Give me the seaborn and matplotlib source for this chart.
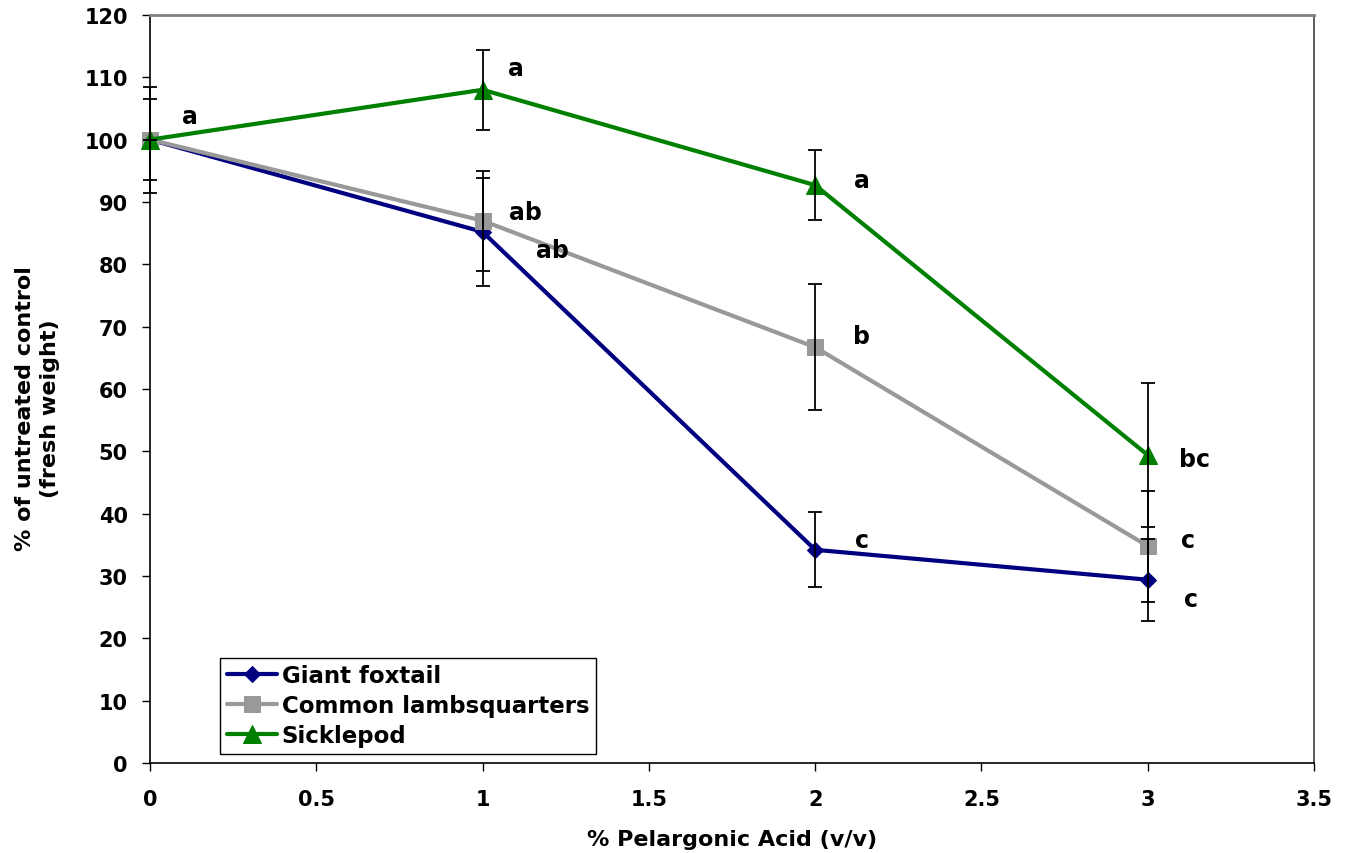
import matplotlib
matplotlib.use('Agg')
import matplotlib.pyplot as plt
import seaborn as sns
import pandas as pd

sns.set_style('white')
plt.rcParams['font.family'] = ['DejaVu Sans']
plt.rcParams['font.weight'] = 'bold'
plt.rcParams['text.color'] = 'black'
plt.rcParams['axes.labelcolor'] = 'black'
plt.rcParams['xtick.color'] = 'black'
plt.rcParams['ytick.color'] = 'black'

# 데이터
acid = [0, 1, 2, 3]
species = ['Giant foxtail', 'Common lambsquarters', 'Sicklepod']
giant = [100, 85.2, 34.2, 29.4]
giant_err = [8.5, 8.6, 6.0, 6.6]
lambs = [100, 87.0, 66.7, 34.8]
lambs_err = [6.5, 8.0, 10.1, 8.9]
sickle = [100, 108.0, 92.7, 49.4]
sickle_err = [0, 6.4, 5.6, 11.6]

colors = ['#000080', '#999999', '#008000']
markers = ['D', 's', '^']
msizes = [8.5, 11.5, 12.5]

# 유의성 문자
letter_x = [0.12, 1.10, 1.13, 1.21, 2.14, 2.14, 2.14, 3.14, 3.12, 3.13]
letter_y = [103.8, 111.5, 88.4, 82.3, 93.5, 68.5, 35.8, 48.8, 35.8, 26.3]
letter_txt = ['a', 'a', 'ab', 'ab', 'a', 'b', 'c', 'bc', 'c', 'c']

fig = plt.figure(figsize=(13.47, 8.54), dpi=100)
ax = fig.add_axes([0.1114, 0.1054, 0.8641, 0.8759])

values = [giant, lambs, sickle]
errors = [giant_err, lambs_err, sickle_err]
for name, vals, col, mk, ms in zip(species, values, colors, markers, msizes):
    df = pd.DataFrame({'x': acid, 'y': vals})
    sns.lineplot(data=df, x='x', y='y', ax=ax, color=col, marker=mk,
                 markersize=ms, markeredgecolor=col, linewidth=3,
                 label=name, zorder=2, clip_on=False)

for vals, err in zip(values, errors):
    eb = ax.errorbar(acid, vals, yerr=err, fmt='none', ecolor='black',
                     elinewidth=1.3, capsize=5, capthick=1.3, zorder=3)
    for art in eb.lines[1] + eb.lines[2]:
        art.set_clip_on(False)

for x, y, t in zip(letter_x, letter_y, letter_txt):
    ax.text(x, y, t, fontsize=17, fontweight='bold', ha='center', va='center')

ax.set_xlim(0, 3.5)
ax.set_ylim(0, 120)
ax.set_xticks([0, 0.5, 1, 1.5, 2, 2.5, 3, 3.5])
ax.set_xticklabels(['0', '0.5', '1', '1.5', '2', '2.5', '3', '3.5'])
ax.set_yticks(range(0, 121, 10))
ax.tick_params(axis='both', direction='out', length=6, width=1,
               labelsize=15, color='black')
ax.tick_params(axis='x', pad=13)
ax.tick_params(axis='y', pad=10)
ax.xaxis.set_ticks_position('bottom')
ax.yaxis.set_ticks_position('left')

for s in ['left', 'bottom']:
    ax.spines[s].set_color('black')
    ax.spines[s].set_linewidth(1.2)
ax.spines['top'].set_color('#808080')
ax.spines['top'].set_linewidth(2)
ax.spines['right'].set_color('#404040')
ax.spines['right'].set_linewidth(1.2)

ax.set_xlabel('% Pelargonic Acid (v/v)', fontsize=16, fontweight='bold')
ax.set_ylabel('% of untreated control\n(fresh weight)', fontsize=16,
              fontweight='bold', linespacing=1.3, va='center')
ax.xaxis.set_label_coords(0.5, -0.088)
ax.yaxis.set_label_coords(-0.097, 0.475)

leg = ax.legend(loc='lower left', bbox_to_anchor=(0.06, 0.012),
                borderaxespad=0, fancybox=False, framealpha=1,
                edgecolor='black', fontsize=16.5, handlelength=2.2,
                handletextpad=0.2, labelspacing=0.3, borderpad=0.3)
leg.get_frame().set_linewidth(1.0)
for t in leg.get_texts():
    t.set_fontweight('bold')

fig.savefig('out.png', dpi=100)
